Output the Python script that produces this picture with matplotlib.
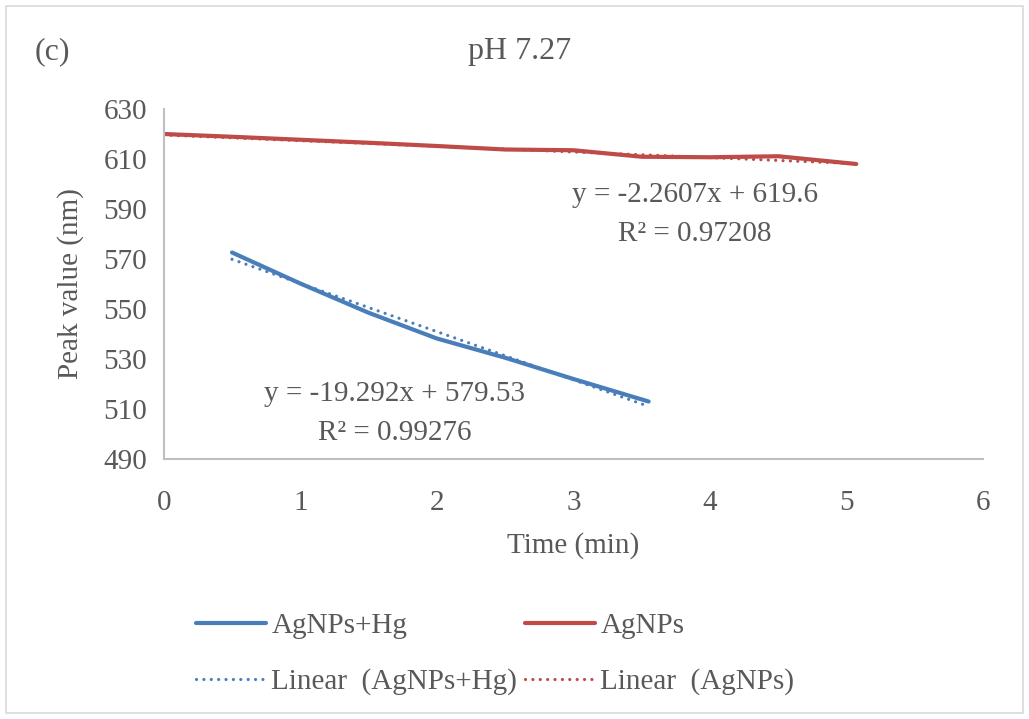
import matplotlib
matplotlib.use('Agg')
import matplotlib.pyplot as plt
from matplotlib.patches import Rectangle
import numpy as np

# data
time_hg = [0.5, 1.0, 1.5, 2.0, 2.5, 3.0, 3.55]
peak_hg = [572.6, 560.2, 548.5, 538.2, 530.5, 522.0, 513.0]

time_ag = [0.0, 0.5, 1.0, 1.5, 2.0, 2.5, 3.0, 3.5, 4.0, 4.5, 5.07]
peak_ag = [620.0, 618.9, 617.7, 616.5, 615.2, 613.8, 613.5, 610.9, 610.7, 611.1, 608.0]

# trendline coefficients as printed on the chart
fit_hg = [-19.292, 579.53]
fit_ag = [-2.2607, 619.6]

eq_hg = ['y = -19.292x + 579.53', 'R² = 0.99276']
eq_ag = ['y = -2.2607x + 619.6', 'R² = 0.97208']

x_ticks = [0, 1, 2, 3, 4, 5, 6]
y_ticks = [490, 510, 530, 550, 570, 590, 610, 630]

blue = '#4A7EBB'
red = '#BE4B48'
grey = '#595959'
dots = (0, (0.01, 2.3))

plt.rcParams['font.family'] = ['Liberation Serif', 'DejaVu Serif']
plt.rcParams['font.size'] = 21

fig = plt.figure(figsize=(10.29, 7.19), dpi=100)
fig.patches.append(Rectangle((0.006, 0.008), 0.988, 0.984, transform=fig.transFigure,
                             fill=False, edgecolor='#D9D9D9', linewidth=1.2))

ax = fig.add_axes([0.1591, 0.3616, 0.7965, 0.4868])

ax.plot(time_hg, peak_hg, color=blue, linewidth=3, solid_capstyle='round',
        solid_joinstyle='round', label='AgNPs+Hg')
x_fit = np.array([min(time_hg), max(time_hg)])
ax.plot(x_fit, fit_hg[0] * x_fit + fit_hg[1], color=blue, linewidth=2.3,
        linestyle=dots, dash_capstyle='round', label='Linear  (AgNPs+Hg)')

ax.plot(time_ag, peak_ag, color=red, linewidth=3, solid_capstyle='round',
        solid_joinstyle='round', label='AgNPs')
x_fit = np.array([min(time_ag), max(time_ag)])
ax.plot(x_fit, fit_ag[0] * x_fit + fit_ag[1], color=red, linewidth=2.3,
        linestyle=dots, dash_capstyle='round', label='Linear  (AgNPs)')

ax.set_xlim(0, 6)
ax.set_ylim(490, 630)
ax.set_xticks(x_ticks)
ax.set_yticks(y_ticks)
ax.tick_params(length=0, colors=grey, labelsize=21)
ax.tick_params(axis='x', pad=22)
ax.tick_params(axis='y', pad=12)
for s in ['top', 'right']:
    ax.spines[s].set_visible(False)
for s in ['left', 'bottom']:
    ax.spines[s].set_color('#BFBFBF')
    ax.spines[s].set_linewidth(1.5)

ax.set_xlabel('Time (min)', color=grey, fontsize=21, labelpad=12)
ax.set_ylabel('Peak value (nm)', color=grey, fontsize=21, labelpad=14)

# trendline equations
ax.text(3.89, 595.5, eq_ag[0], ha='center', va='center', color=grey, fontsize=21)
ax.text(3.89, 580.0, eq_ag[1], ha='center', va='center', color=grey, fontsize=21)
ax.text(1.69, 516.0, eq_hg[0], ha='center', va='center', color=grey, fontsize=21)
ax.text(1.69, 500.5, eq_hg[1], ha='center', va='center', color=grey, fontsize=21)

fig.text(0.505, 0.928, 'pH 7.27', ha='center', va='center', color=grey, fontsize=23)
fig.text(0.034, 0.928, '(c)', ha='left', va='center', color=grey, fontsize=23)

h, l = ax.get_legend_handles_labels()
fig.legend(h, l, ncol=2, loc='center', bbox_to_anchor=(0.481, 0.0904), frameon=False,
           fontsize=21, labelcolor=grey, handlelength=2.4, handletextpad=0.2,
           columnspacing=0.25, labelspacing=1.0)

fig.savefig('out.png', dpi=100)
